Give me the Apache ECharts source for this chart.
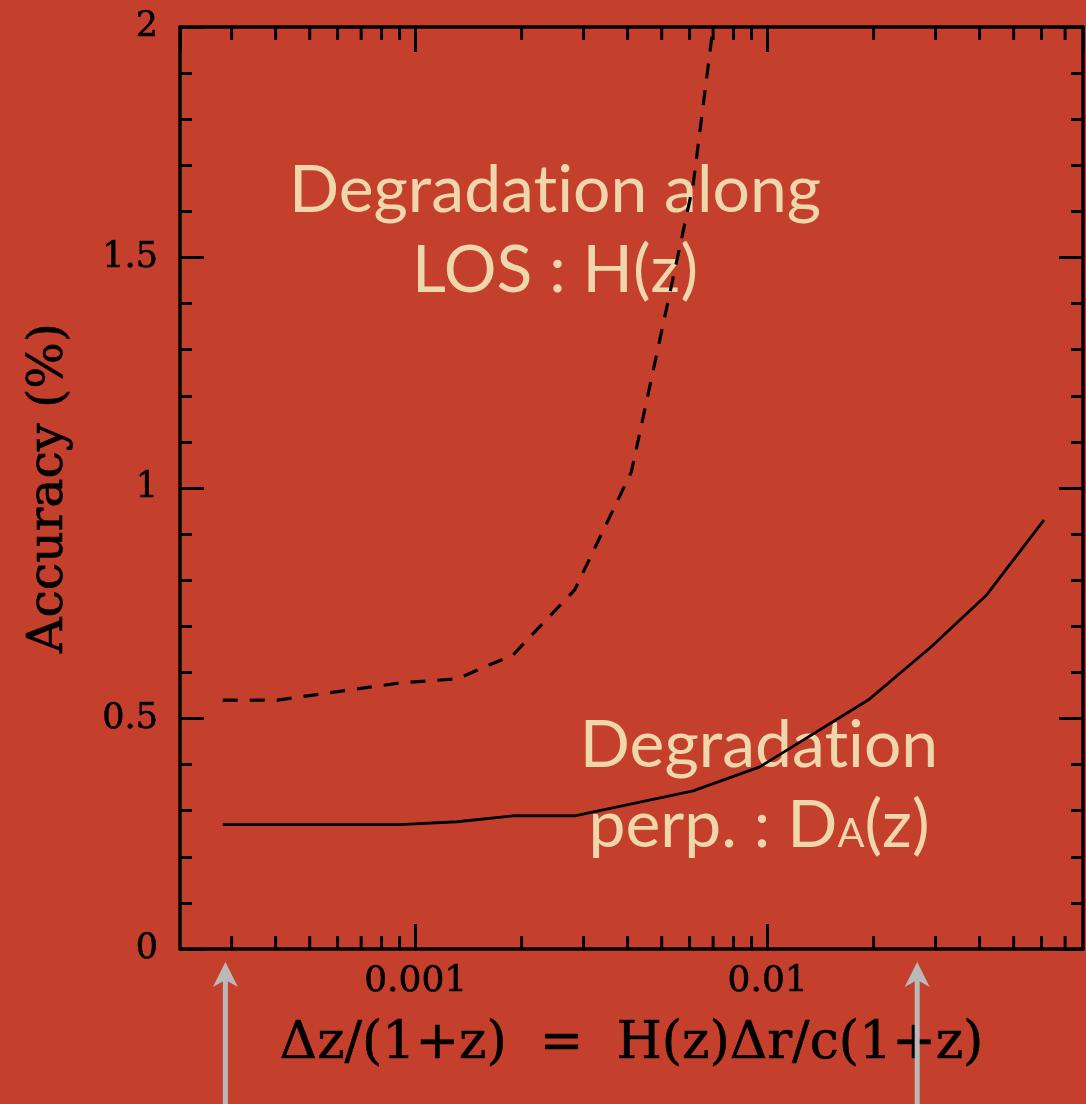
<!DOCTYPE html>
<html>
<head>
<meta charset="utf-8">
<script src="https://cdn.jsdelivr.net/npm/echarts@6/dist/echarts.min.js"></script>
<style>
  html, body { margin: 0; padding: 0; background: #c5402c; }
  #chart { width: 1086px; height: 1104px; }
</style>
</head>
<body>
<div id="chart"></div>
<script>
// BAO distance accuracy versus redshift resolution Δz/(1+z)
const xPerp = [2.83e-4, 9.0e-4, 1.31e-3, 1.89e-3, 2.83e-3, 6.14e-3, 9.5e-3, 1.93e-2, 2.89e-2, 4.19e-2, 6.1e-2];
const yPerp = [0.27, 0.27, 0.276, 0.289, 0.289, 0.343, 0.395, 0.54, 0.653, 0.768, 0.931];

const xLos = [2.83e-4, 4.05e-4, 9.0e-4, 1.31e-3, 1.89e-3, 2.83e-3, 4.1e-3, 6.14e-3, 9.5e-3];
const yLos = [0.54, 0.54, 0.577, 0.586, 0.638, 0.779, 1.035, 1.657, 2.8];

// log-axis minor ticks (2..9 within each decade)
const xMinorTicks = [3e-4, 4e-4, 5e-4, 6e-4, 7e-4, 8e-4, 9e-4,
                     2e-3, 3e-3, 4e-3, 5e-3, 6e-3, 7e-3, 8e-3, 9e-3,
                     2e-2, 3e-2, 4e-2, 5e-2, 6e-2, 7e-2];
const xRange = [2.14e-4, 0.0787];
const yRange = [0, 2];
const yStep = 0.5;

// resolutions marked with arrows below the axis
const arrowMarks = [2.88e-4, 0.0266];

const xTitle = 'Δz/(1+z)  =  H(z)Δr/c(1+z)';
const yTitle = 'Accuracy (%)';
// "ion" is a separate rich token so the font does not join "t" and "i"
const noteLos = 'Degradat{w|ion} along\nLOS : H(z)';
const notePerp = 'Degradat{w|ion}\nperp. : D{sub|A}(z)';

const INK = '#000';
const CREAM = '#efd7ac';
const SERIF = '"DejaVu Serif", serif';
const SANS = 'Lato, "Open Sans", sans-serif';

const chart = echarts.init(document.getElementById('chart'), null, { renderer: 'canvas' });

function tickFormatter(v) {
  return String(parseFloat(Number(v).toPrecision(6)));
}

function renderMinorTick(params, api) {
  const v = api.value(0);
  const b = api.coord([v, yRange[0]]);
  const t = api.coord([v, yRange[1]]);
  const len = 13;
  return {
    type: 'group',
    children: [
      { type: 'line', shape: { x1: b[0], y1: b[1], x2: b[0], y2: b[1] - len }, style: { stroke: INK, lineWidth: 3 } },
      { type: 'line', shape: { x1: t[0], y1: t[1], x2: t[0], y2: t[1] + len }, style: { stroke: INK, lineWidth: 3 } }
    ]
  };
}

function renderArrow(params, api) {
  const p = api.coord([api.value(0), yRange[0]]);
  const x = p[0];
  const tipY = p[1] + 13;
  const headH = 25, headW = 12.5, notch = 7;
  const bottom = api.getHeight();
  const grey = '#b9b9b9';
  return {
    type: 'group',
    children: [
      { type: 'rect', shape: { x: x - 2.5, y: tipY + headH - notch, width: 5, height: bottom - tipY }, style: { fill: grey } },
      { type: 'polygon', shape: { points: [[x, tipY], [x + headW, tipY + headH], [x, tipY + headH - notch], [x - headW, tipY + headH]] }, style: { fill: grey } }
    ]
  };
}

const axisLine = { show: true, onZero: false, lineStyle: { color: INK, width: 3.5 } };
const tickLine = { color: INK, width: 3 };
const typeText = { color: INK, fontFamily: SERIF, textBorderColor: INK, textBorderWidth: 0.6 };
const noteToken = { fill: CREAM, fontFamily: SANS, fontSize: 66, lineHeight: 80 };

const option = {
  backgroundColor: '#c5402c',
  animation: false,
  grid: { left: 180, right: 3, top: 27, bottom: 155, containLabel: false },
  xAxis: [
    {
      type: 'log', logBase: 10, min: xRange[0], max: xRange[1], position: 'bottom',
      axisLine: axisLine,
      axisTick: { show: true, inside: true, length: 25, lineStyle: tickLine },
      axisLabel: Object.assign({
        show: true, margin: 15, fontSize: 36,
        showMinLabel: false, showMaxLabel: false, formatter: tickFormatter
      }, typeText),
      splitLine: { show: false },
      name: xTitle, nameLocation: 'middle', nameGap: 69,
      nameTextStyle: Object.assign({ fontSize: 52 }, typeText)
    },
    {
      type: 'log', logBase: 10, min: xRange[0], max: xRange[1], position: 'top',
      axisLine: axisLine,
      axisTick: { show: true, inside: true, length: 25, lineStyle: tickLine },
      axisLabel: { show: false },
      splitLine: { show: false }
    }
  ],
  yAxis: [
    {
      type: 'value', min: yRange[0], max: yRange[1], interval: yStep, position: 'left',
      axisLine: axisLine,
      axisTick: { show: true, inside: true, length: 24, lineStyle: tickLine },
      minorTick: { show: true, splitNumber: 5, length: 12, lineStyle: tickLine },
      axisLabel: Object.assign({ show: true, margin: 22, fontSize: 35 }, typeText),
      splitLine: { show: false },
      name: yTitle, nameLocation: 'middle', nameGap: 106,
      nameTextStyle: Object.assign({ fontSize: 49 }, typeText)
    },
    {
      type: 'value', min: yRange[0], max: yRange[1], interval: yStep, position: 'right',
      axisLine: axisLine,
      axisTick: { show: true, inside: true, length: 24, lineStyle: tickLine },
      minorTick: { show: true, splitNumber: 5, length: 12, lineStyle: tickLine },
      axisLabel: { show: false },
      splitLine: { show: false }
    }
  ],
  graphic: [
    {
      type: 'text', x: 555, y: 151, z: 1,
      style: Object.assign({
        text: noteLos,
        align: 'center', textAlign: 'center', verticalAlign: 'top', textVerticalAlign: 'top',
        rich: { w: noteToken }
      }, noteToken)
    },
    {
      type: 'text', x: 759, y: 706, z: 1,
      style: Object.assign({
        text: notePerp,
        align: 'center', textAlign: 'center', verticalAlign: 'top', textVerticalAlign: 'top',
        rich: {
          w: noteToken,
          sub: { fill: CREAM, fontFamily: SANS, fontSize: 40, verticalAlign: 'bottom', padding: [0, 0, 12, 0] }
        }
      }, noteToken)
    }
  ],
  series: [
    {
      name: 'perp', type: 'line', xAxisIndex: 0, yAxisIndex: 0,
      data: xPerp.map((x, i) => [x, yPerp[i]]),
      symbol: 'none', smooth: false, clip: true, z: 3,
      lineStyle: { color: INK, width: 2.8, type: 'solid' }
    },
    {
      name: 'los', type: 'line', xAxisIndex: 0, yAxisIndex: 0,
      data: xLos.map((x, i) => [x, yLos[i]]),
      symbol: 'none', smooth: false, clip: true, z: 3,
      lineStyle: { color: INK, width: 3.2, type: [15, 12] }
    },
    {
      name: 'minorTicks', type: 'custom', xAxisIndex: 0, yAxisIndex: 0,
      data: xMinorTicks.map(v => [v, 0]),
      renderItem: renderMinorTick, silent: true, clip: false, z: 4
    },
    {
      name: 'arrows', type: 'custom', xAxisIndex: 0, yAxisIndex: 0,
      data: arrowMarks.map(v => [v, 0]),
      renderItem: renderArrow, silent: true, clip: false, z: 5
    }
  ]
};

chart.setOption(option);
</script>
</body>
</html>
